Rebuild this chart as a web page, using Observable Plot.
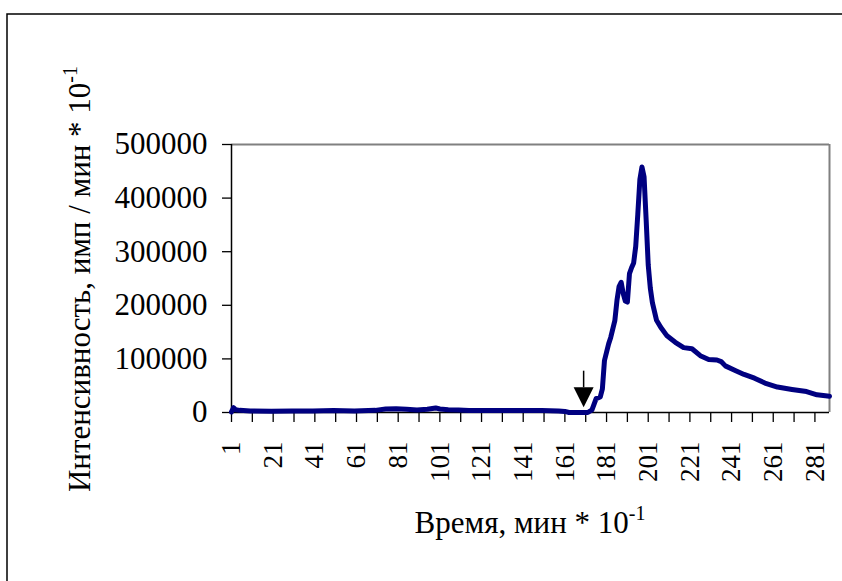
<!DOCTYPE html>
<html><head><meta charset="utf-8">
<script src="https://cdn.jsdelivr.net/npm/d3@7"></script>
<script src="https://cdn.jsdelivr.net/npm/@observablehq/plot@0.6"></script>
<style>body{margin:0;background:#fff;} svg{display:block}</style>
</head><body><div id="chart"></div>
<script>
const time = [
  1, 2, 3, 5, 10, 20, 30, 40, 50, 60,
  70, 75, 80, 85, 90, 95, 99, 101, 105, 110,
  115, 120, 130, 140, 150, 158, 161, 163, 172, 174,
  176, 178, 179, 180, 182, 183, 185, 186, 187, 188,
  189, 190, 191, 192, 193, 194, 195, 196, 197, 198,
  199, 200, 201, 202, 203, 205, 207, 210, 214, 218,
  222, 226, 230, 234, 236, 238, 243, 247, 252, 257,
  263, 270, 277, 282, 288
];
const intensity = [
  1000, 9000, 5000, 4000, 3000, 2500, 3000, 3000, 3500, 3000,
  4000, 6500, 7000, 6000, 4500, 6000, 8500, 6500, 5000, 4500,
  3800, 3500, 3500, 3500, 3500, 3000, 2000, 0, 0, 5000,
  26000, 29000, 44000, 97000, 128000, 140000, 172000, 209000, 235000, 243000,
  222000, 208000, 206000, 259000, 270000, 279000, 310000, 370000, 435000, 458000,
  440000, 360000, 275000, 232000, 205000, 172000, 159000, 143000, 131000, 121000,
  119000, 106000, 99000, 98000, 95000, 87000, 78000, 71000, 64000, 55000,
  47500, 43000, 39000, 33000, 30500
];
const xTicks = [1, 11, 21, 31, 41, 51, 61, 71, 81, 91, 101, 111, 121, 131, 141, 151, 161, 171, 181, 191, 201, 211, 221, 231, 241, 251, 261, 271, 281];
const xTickLabels = [1, 21, 41, 61, 81, 101, 121, 141, 161, 181, 201, 221, 241, 261, 281];
const yTicks = [0, 100000, 200000, 300000, 400000, 500000];
const arrowTime = [170];
const arrowTail = [78000];
const arrowHead = [47000];
const arrowTip = [10000];

const series = time.map((t, i) => ({t, v: intensity[i]}));
const arrow = arrowTime.map((t, i) => ({t, tail: arrowTail[i], head: arrowHead[i], tip: arrowTip[i]}));

const downTriangle = {
  draw(context) {
    context.moveTo(0, 0);
    context.lineTo(-10, -20);
    context.lineTo(10, -20);
    context.closePath();
  }
};

const serif = '"Liberation Serif", "Times New Roman", serif';

const chart = Plot.plot({
  width: 842, height: 581,
  marginLeft: 231, marginRight: 13, marginTop: 144, marginBottom: 169,
  style: {fontFamily: serif, background: "white", color: "black"},
  x: {domain: [1, 288]},
  y: {domain: [0, 500000]},
  marks: [
    Plot.ruleY([500000], {stroke: "#808080", strokeWidth: 2}),
    Plot.ruleX([288], {stroke: "#808080", strokeWidth: 2}),
    Plot.axisY({ticks: yTicks, tickSize: 9, tickPadding: 15, fontSize: 31, strokeWidth: 1.3, label: null, tickFormat: d => String(d)}),
    Plot.axisX({ticks: xTicks, tickSize: 10, tickPadding: 19, tickRotate: -90, fontSize: 27, strokeWidth: 1.3, label: null,
      tickFormat: d => xTickLabels.includes(d) ? String(d) : ""}),
    Plot.ruleX([1], {stroke: "black", strokeWidth: 1.5}),
    Plot.ruleY([0], {stroke: "black", strokeWidth: 1.5}),
    Plot.line(series, {x: "t", y: "v", stroke: "#000080", strokeWidth: 5, strokeLinejoin: "round", strokeLinecap: "round"}),
    Plot.link(arrow, {x1: "t", x2: "t", y1: "tail", y2: "head", stroke: "black", strokeWidth: 1.5}),
    Plot.dot(arrow, {x: "t", y: "tip", symbol: downTriangle, fill: "black", stroke: "none", r: 5})
  ]
});

document.getElementById("chart").appendChild(chart);
const svg = d3.select(chart);

// outer chart frame
svg.append("path")
  .attr("d", "M7,581V14H842")
  .attr("fill", "none")
  .attr("stroke", "black")
  .attr("stroke-width", 1.5);

// y-axis title
const yt = svg.append("text")
  .attr("transform", "translate(90,279) rotate(-90)")
  .attr("text-anchor", "middle")
  .attr("font-family", serif)
  .attr("font-size", 31)
  .attr("fill", "black");
yt.append("tspan").text("Интенсивность, имп / мин * 10");
yt.append("tspan").attr("font-size", 20).attr("dy", -13).text("-1");

// x-axis title
const xt = svg.append("text")
  .attr("x", 530).attr("y", 533)
  .attr("text-anchor", "middle")
  .attr("font-family", serif)
  .attr("font-size", 31)
  .attr("fill", "black");
xt.append("tspan").text("Время, мин * 10");
xt.append("tspan").attr("font-size", 20).attr("dy", -13).text("-1");
</script>
</body></html>
